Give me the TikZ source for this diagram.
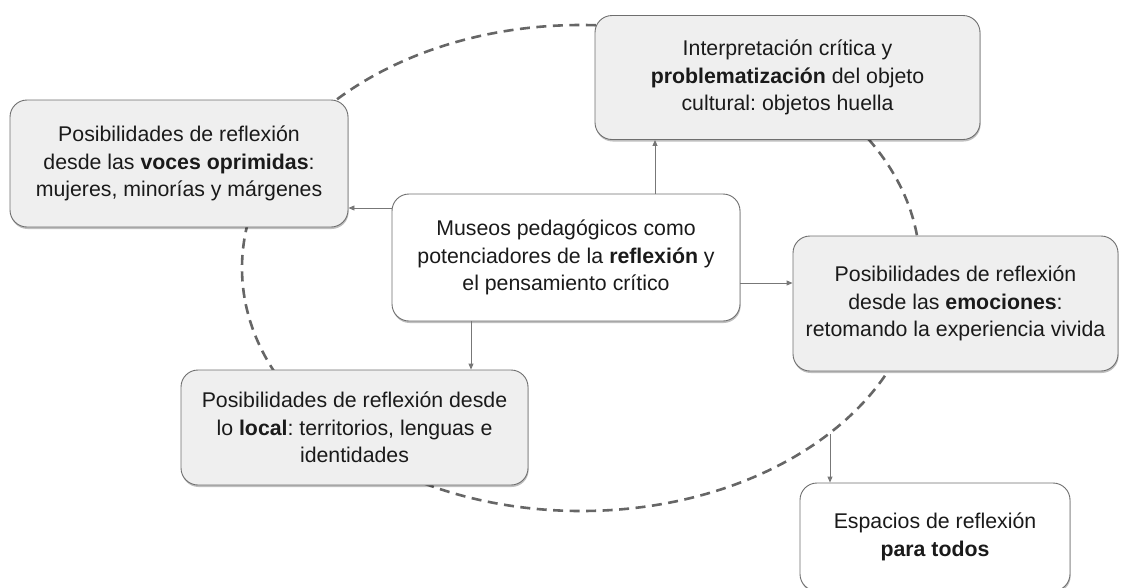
\documentclass[tikz,border=0pt]{standalone}
\usepackage{fontspec}
\setmainfont{Liberation Sans}
\usetikzlibrary{shadows,arrows.meta}
\definecolor{boxgray}{HTML}{EFEFEF}
\definecolor{edgegray}{HTML}{6E6E6E}
\definecolor{dashgray}{HTML}{666666}
\definecolor{arrgray}{HTML}{777777}
\definecolor{txt}{HTML}{1A1A1A}
\frenchspacing
\begin{document}
\begin{tikzpicture}[x=1pt,y=-1pt,
  card/.style={draw=edgegray, line width=0.9pt, rounded corners=17pt, align=center,
    inner sep=0pt, text=txt, font=\fontsize{21.3}{27.5}\selectfont,
    drop shadow={shadow xshift=0.6pt, shadow yshift=-2pt, opacity=0.25, fill=black}},
  graycard/.style={card, fill=boxgray},
  whitecard/.style={card, fill=white},
  arr/.style={draw=arrgray, line width=0.9pt, -{Triangle[length=6pt,width=5pt]}},
  ring/.style={draw=dashgray, line width=2.6pt, dash pattern=on 10pt off 6.5pt}
]
\useasboundingbox (0,0) rectangle (1131,587);
\draw[ring] (581,268) ellipse [x radius=339pt, y radius=243pt];

\node[graycard, minimum width=385pt, minimum height=124pt] (interp) at (787.5,77.5)
  {Interpretación crítica y\\ \textbf{problematización} del objeto\\ cultural: objetos huella};
\node[graycard, minimum width=338pt, minimum height=127pt] (voces) at (179,163.5)
  {Posibilidades de reflexión\\ desde las \textbf{voces oprimidas}:\\ mujeres, minorías y márgenes};
\node[whitecard, minimum width=348pt, minimum height=127pt] (museo) at (566,257.5)
  {Museos pedagógicos como\\ potenciadores de la \textbf{reflexión} y\\ el pensamiento crítico};
\node[graycard, minimum width=325pt, minimum height=135pt] (emoc) at (955.5,303.5)
  {Posibilidades de reflexión\\ desde las \textbf{emociones}:\\ retomando la experiencia vivida};
\node[graycard, minimum width=347pt, minimum height=115pt] (local) at (354.5,427.5)
  {Posibilidades de reflexión desde\\ lo \textbf{local}: territorios, lenguas e\\ identidades};
\node[whitecard, minimum width=270pt, minimum height=108pt] (espacios) at (935,537)
  {Espacios de reflexión\\ \textbf{para todos}};

\coordinate (ring1) at (830,434);

\draw[arr] ([xshift=89pt]museo.north) -- ([xshift=89pt]museo.north |- interp.south);
\draw[arr] ([yshift=49.5pt]museo.west) -- ([yshift=49.5pt]museo.west -| voces.east);
\draw[arr] ([yshift=-25.5pt]museo.east) -- ([yshift=-25.5pt]museo.east -| emoc.west);
\draw[arr] ([xshift=-95pt]museo.south) -- ([xshift=-95pt]museo.south |- local.north);
\draw[arr] (ring1) -- (ring1 |- espacios.north);
\end{tikzpicture}
\end{document}
